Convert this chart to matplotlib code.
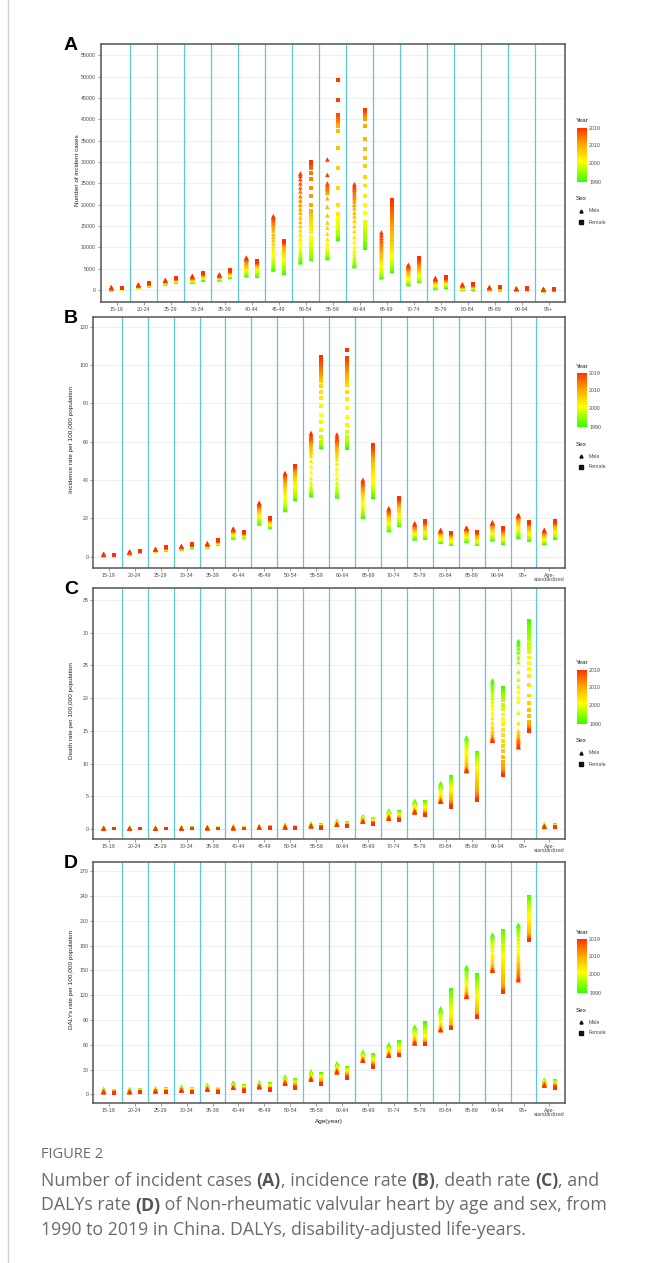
import matplotlib
matplotlib.use("Agg")
import matplotlib.pyplot as plt
import numpy as np
from matplotlib.colors import LinearSegmentedColormap, Normalize
from matplotlib.cm import ScalarMappable
from matplotlib.lines import Line2D

W, H = 662, 1263
YEARS = list(range(1990, 2020))
AGES = ["15-19", "20-24", "25-29", "30-34", "35-39", "40-44", "45-49", "50-54", "55-59",
        "60-64", "65-69", "70-74", "75-79", "80-84", "85-89", "90-94", "95+"]
AGES_STD = AGES + ["Age-\nstandardized"]

# (A) number of incident cases, in thousands, one row per age group, 1990..2019
cases_male = [
    [0.2,0.2,0.3,0.3,0.3,0.3,0.3,0.3,0.3,0.3, 0.4,0.4,0.4,0.4,0.4,0.4,0.4,0.4,0.4,0.5, 0.5,0.5,0.5,0.5,0.5,0.5,0.5,0.6,0.6,0.6],
    [0.8,0.8,0.8,0.9,0.9,0.9,0.9,0.9,1.0,1.0, 1.0,1.0,1.0,1.0,1.0,1.1,1.1,1.1,1.1,1.1, 1.1,1.1,1.1,1.2,1.2,1.2,1.2,1.2,1.2,1.2],
    [1.6,1.6,1.7,1.7,1.7,1.8,1.8,1.8,1.9,1.9, 1.9,1.9,2.0,2.0,2.0,2.0,2.1,2.1,2.1,2.1, 2.1,2.2,2.2,2.2,2.2,2.2,2.3,2.3,2.3,2.3],
    [2.0,2.0,2.1,2.1,2.2,2.2,2.3,2.3,2.4,2.4, 2.5,2.5,2.6,2.6,2.7,2.7,2.8,2.8,2.8,2.9, 2.9,2.9,3.0,3.0,3.0,3.1,3.1,3.2,3.2,3.3],
    [2.5,2.6,2.6,2.7,2.7,2.8,2.8,2.9,2.9,3.0, 3.0,3.1,3.1,3.1,3.2,3.2,3.2,3.2,3.3,3.3, 3.3,3.3,3.4,3.4,3.4,3.5,3.5,3.5,3.6,3.6],
    [3.5,3.6,3.7,3.8,3.9,4.0,4.2,4.4,4.6,4.8, 5.0,5.1,5.2,5.3,5.4,5.5,5.6,5.8,6.0,6.2, 6.4,6.6,6.8,7.0,7.1,7.2,7.3,7.4,7.5,7.6],
    [4.8,5.0,5.2,5.5,5.8,6.0,6.3,6.7,7.0,7.5, 8.0,8.5,9.0,9.6,10.3,11.0,11.8,12.5,13.2,14.0, 14.6,15.1,15.5,15.8,16.1,16.4,16.6,16.9,17.1,17.3],
    [6.5,6.7,6.9,7.2,7.5,7.8,8.1,8.5,8.9,9.3, 9.8,10.4,11.1,12.0,13.0,14.0,15.0,16.0,17.0,18.1, 19.0,20.0,21.0,22.0,23.1,24.0,25.0,26.0,26.8,27.3],
    [7.5,7.6,7.8,8.0,8.2,8.4,8.6,8.8,9.1,9.4, 9.8,10.2,11.0,12.0,13.2,14.6,15.8,17.5,19.5,21.5, 22.8,23.2,23.5,23.7,23.9,24.2,24.7,25.0,27.0,30.6],
    [5.6,5.7,5.8,6.0,6.2,6.5,6.8,7.2,7.8,8.5, 9.3,10.2,11.3,12.5,13.8,15.0,16.2,17.3,18.2,19.2, 20.0,20.8,21.5,22.0,22.5,23.0,23.5,23.9,24.3,24.8],
    [3.0,3.1,3.2,3.4,3.6,3.8,4.0,4.3,4.6,5.0, 5.4,5.8,6.2,6.6,7.0,7.4,7.8,8.2,8.6,9.0, 9.4,9.8,10.2,10.6,11.0,11.4,11.8,12.3,12.9,13.5],
    [1.4,1.5,1.6,1.7,1.8,1.9,2.0,2.2,2.4,2.6, 2.8,3.0,3.2,3.4,3.6,3.8,4.0,4.2,4.4,4.6, 4.7,4.8,5.0,5.1,5.2,5.3,5.5,5.6,5.8,5.9],
    [0.5,0.6,0.6,0.7,0.8,0.9,1.0,1.1,1.2,1.3, 1.4,1.5,1.6,1.7,1.8,1.9,2.0,2.0,2.1,2.2, 2.2,2.3,2.4,2.4,2.5,2.5,2.6,2.7,2.7,2.8],
    [0.3,0.3,0.3,0.4,0.4,0.4,0.5,0.5,0.5,0.6, 0.6,0.7,0.7,0.7,0.8,0.8,0.9,0.9,0.9,1.0, 1.0,1.0,1.1,1.1,1.1,1.2,1.2,1.2,1.3,1.3],
    [0.1,0.1,0.1,0.1,0.2,0.2,0.2,0.2,0.2,0.3, 0.3,0.3,0.3,0.3,0.4,0.4,0.4,0.4,0.4,0.5, 0.5,0.5,0.5,0.5,0.5,0.6,0.6,0.6,0.6,0.6],
    [0.1,0.1,0.1,0.1,0.1,0.1,0.1,0.1,0.1,0.1, 0.1,0.2,0.2,0.2,0.2,0.2,0.2,0.2,0.2,0.2, 0.2,0.2,0.3,0.3,0.3,0.3,0.3,0.3,0.3,0.3],
    [0.0,0.0,0.0,0.0,0.0,0.0,0.0,0.0,0.0,0.1, 0.1,0.1,0.1,0.1,0.1,0.1,0.1,0.1,0.1,0.1, 0.1,0.1,0.1,0.1,0.2,0.2,0.2,0.2,0.2,0.2],
]
cases_female = [
    [0.2,0.2,0.2,0.3,0.3,0.3,0.3,0.3,0.3,0.3, 0.3,0.3,0.4,0.4,0.4,0.4,0.4,0.4,0.4,0.4, 0.4,0.4,0.5,0.5,0.5,0.5,0.5,0.5,0.5,0.5],
    [0.9,0.9,1.0,1.0,1.0,1.0,1.1,1.1,1.1,1.1, 1.2,1.2,1.2,1.2,1.3,1.3,1.3,1.3,1.4,1.4, 1.4,1.4,1.4,1.5,1.5,1.5,1.5,1.6,1.6,1.6],
    [1.9,1.9,2.0,2.0,2.0,2.1,2.1,2.1,2.2,2.2, 2.2,2.3,2.3,2.3,2.4,2.4,2.4,2.5,2.5,2.5, 2.6,2.6,2.6,2.6,2.7,2.7,2.7,2.8,2.8,2.8],
    [2.4,2.5,2.5,2.6,2.7,2.7,2.8,2.9,2.9,3.0, 3.0,3.1,3.2,3.2,3.3,3.3,3.4,3.4,3.5,3.5, 3.6,3.6,3.7,3.7,3.8,3.8,3.9,3.9,4.0,4.0],
    [3.0,3.1,3.1,3.2,3.3,3.3,3.4,3.5,3.5,3.6, 3.6,3.7,3.8,3.8,3.9,3.9,4.0,4.0,4.1,4.1, 4.2,4.2,4.3,4.3,4.4,4.4,4.5,4.5,4.6,4.6],
    [3.3,3.4,3.5,3.6,3.7,3.9,4.1,4.3,4.5,4.8, 5.0,5.1,5.2,5.4,5.5,5.6,5.7,5.8,5.9,6.0, 6.1,6.2,6.3,6.3,6.4,6.4,6.5,6.5,6.6,6.7],
    [3.9,4.1,4.3,4.5,4.8,5.1,5.4,5.8,6.2,6.6, 7.0,7.4,7.8,8.2,8.6,9.0,9.3,9.6,9.9,10.1, 10.3,10.5,10.7,10.8,10.9,11.0,11.1,11.2,11.3,11.5],
    [7.2,7.3,7.4,7.5,7.7,8.0,8.4,9.0,9.8,10.5, 11.5,12.5,13.5,14.5,15.5,16.5,17.2,17.8,18.2,18.6, 20.0,22.0,24.0,26.0,27.5,28.5,29.0,29.5,29.8,30.0],
    [12.0,12.2,12.4,12.6,12.8,13.0,13.3,13.7,14.2,14.8, 15.5,16.5,17.5,17.9,20.0,24.0,28.7,33.2,37.2,38.5, 39.0,39.3,39.5,39.8,40.0,40.5,40.9,41.0,44.5,49.3],
    [9.8,10.0,10.3,10.7,11.2,11.8,12.5,13.2,14.0,15.0, 16.0,18.0,20.0,22.0,24.5,26.5,29.0,31.0,33.0,35.5, 38.5,40.0,40.8,41.2,41.5,41.7,41.9,42.0,42.1,42.3],
    [4.4,4.6,4.8,5.0,5.2,5.5,5.8,6.2,6.6,7.0, 7.5,8.0,8.6,9.2,9.8,10.5,11.2,12.0,12.8,13.6, 14.4,15.2,16.0,16.8,17.5,18.2,18.9,19.5,20.2,21.0],
    [2.0,2.1,2.2,2.3,2.4,2.5,2.7,2.9,3.1,3.3, 3.5,3.7,3.9,4.1,4.3,4.5,4.7,4.9,5.1,5.3, 5.5,5.7,5.9,6.1,6.3,6.5,6.7,6.9,7.2,7.5],
    [0.8,0.9,0.9,1.0,1.0,1.1,1.2,1.3,1.4,1.5, 1.6,1.7,1.8,1.9,2.0,2.0,2.1,2.2,2.2,2.3, 2.4,2.4,2.5,2.6,2.6,2.7,2.8,2.8,2.9,3.0],
    [0.3,0.3,0.4,0.4,0.4,0.5,0.5,0.5,0.6,0.6, 0.7,0.7,0.7,0.8,0.8,0.9,0.9,0.9,1.0,1.0, 1.0,1.1,1.1,1.1,1.2,1.2,1.2,1.3,1.3,1.4],
    [0.1,0.1,0.1,0.2,0.2,0.2,0.2,0.2,0.3,0.3, 0.3,0.3,0.3,0.4,0.4,0.4,0.4,0.5,0.5,0.5, 0.5,0.5,0.6,0.6,0.6,0.6,0.6,0.7,0.7,0.7],
    [0.1,0.1,0.1,0.1,0.1,0.1,0.1,0.1,0.1,0.1, 0.2,0.2,0.2,0.2,0.2,0.2,0.2,0.2,0.2,0.2, 0.3,0.3,0.3,0.3,0.3,0.3,0.3,0.3,0.3,0.4],
    [0.0,0.0,0.0,0.0,0.0,0.0,0.0,0.0,0.1,0.1, 0.1,0.1,0.1,0.1,0.1,0.1,0.1,0.1,0.1,0.1, 0.1,0.1,0.1,0.1,0.1,0.2,0.2,0.2,0.2,0.2],
]

# (B) incidence rate per 100,000
inc_male = [
    [0.8,0.8,0.8,0.9,0.9,0.9,0.9,0.9,0.9,1.0, 1.0,1.0,1.0,1.0,1.0,1.0,1.1,1.1,1.1,1.1, 1.1,1.1,1.1,1.1,1.2,1.2,1.2,1.2,1.2,1.2],
    [1.7,1.7,1.8,1.8,1.8,1.9,1.9,1.9,2.0,2.0, 2.0,2.0,2.1,2.1,2.1,2.1,2.2,2.2,2.2,2.2, 2.3,2.3,2.3,2.3,2.4,2.4,2.4,2.4,2.5,2.5],
    [3.0,3.0,3.1,3.1,3.1,3.2,3.2,3.2,3.3,3.3, 3.3,3.4,3.4,3.4,3.5,3.5,3.5,3.5,3.6,3.6, 3.6,3.6,3.7,3.7,3.7,3.7,3.8,3.8,3.8,3.8],
    [4.2,4.2,4.3,4.3,4.4,4.4,4.5,4.5,4.6,4.6, 4.7,4.7,4.8,4.8,4.8,4.9,4.9,4.9,5.0,5.0, 5.0,5.1,5.1,5.1,5.2,5.2,5.2,5.3,5.3,5.3],
    [5.0,5.1,5.1,5.2,5.2,5.3,5.3,5.4,5.5,5.5, 5.6,5.7,5.7,5.8,5.9,5.9,6.0,6.1,6.1,6.2, 6.3,6.3,6.4,6.5,6.5,6.6,6.6,6.7,6.7,6.8],
    [10.0,10.1,10.2,10.4,10.6,10.8,11.0,11.2,11.4,11.6, 11.8,12.0,12.2,12.4,12.6,12.8,13.0,13.1,13.2,13.4, 13.5,13.6,13.7,13.8,13.9,14.0,14.1,14.2,14.4,14.5],
    [17.3,17.5,17.8,18.1,18.5,18.9,19.3,19.8,20.3,20.8, 21.3,21.8,22.3,22.8,23.2,23.6,24.0,24.4,24.8,25.1, 25.4,25.7,26.0,26.3,26.6,26.9,27.2,27.5,27.8,28.0],
    [24.3,24.6,25.0,25.4,25.8,26.3,26.8,27.5,28.3,29.2, 30.2,31.3,32.4,33.5,34.6,35.6,36.5,37.3,38.0,38.6, 39.2,39.8,40.4,41.0,41.5,42.0,42.4,42.8,43.2,43.6],
    [32.0,32.5,33.0,33.4,33.8,34.2,34.6,35.0,36.5,38.5, 41.0,44.0,47.0,50.0,52.5,54.0,55.2,56.3,57.2,58.0, 58.7,59.3,59.9,60.5,61.0,61.5,62.0,62.5,63.5,64.5],
    [31.4,31.8,32.2,32.6,33.0,33.5,34.0,35.0,36.5,38.5, 41.0,43.5,46.0,48.5,50.8,52.5,54.0,55.0,56.0,56.8, 57.5,58.2,58.8,59.4,60.0,60.5,61.0,61.5,62.5,63.7],
    [20.8,21.2,21.6,22.0,22.5,23.0,23.6,24.3,25.1,26.0, 27.0,28.0,29.0,30.0,31.0,32.0,32.8,33.5,34.2,34.8, 35.3,35.8,36.3,36.8,37.3,37.8,38.3,38.8,39.4,40.0],
    [13.8,14.0,14.3,14.6,15.0,15.4,15.8,16.3,16.8,17.3, 17.8,18.3,18.8,19.3,19.8,20.2,20.6,21.0,21.4,21.8, 22.1,22.4,22.7,23.0,23.3,23.6,24.0,24.4,24.8,25.2],
    [9.5,9.7,9.9,10.2,10.5,10.8,11.1,11.4,11.7,12.0, 12.3,12.6,12.9,13.2,13.5,13.8,14.1,14.4,14.7,15.0, 15.2,15.4,15.7,15.9,16.1,16.4,16.6,16.8,17.0,17.3],
    [7.7,7.8,8.0,8.2,8.4,8.6,8.8,9.0,9.2,9.5, 9.8,10.1,10.4,10.7,11.0,11.3,11.6,11.9,12.1,12.3, 12.5,12.7,12.9,13.1,13.2,13.3,13.4,13.5,13.7,13.8],
    [8.2,8.4,8.6,8.8,9.0,9.3,9.6,9.9,10.2,10.5, 10.8,11.1,11.4,11.7,12.0,12.3,12.6,12.9,13.1,13.3, 13.5,13.7,13.9,14.1,14.3,14.5,14.6,14.7,14.9,15.0],
    [9.0,9.2,9.4,9.7,10.0,10.3,10.6,11.0,11.4,11.8, 12.2,12.6,13.0,13.4,13.8,14.2,14.6,15.0,15.3,15.6, 15.9,16.2,16.5,16.7,16.9,17.1,17.3,17.5,17.7,17.8],
    [10.4,10.7,11.0,11.4,11.8,12.2,12.7,13.2,13.7,14.2, 14.7,15.2,15.7,16.2,16.7,17.2,17.7,18.2,18.6,19.0, 19.4,19.8,20.1,20.4,20.7,20.9,21.1,21.3,21.5,21.7],
    [7.2,7.4,7.6,7.8,8.0,8.2,8.4,8.6,8.8,9.0, 9.3,9.6,9.9,10.2,10.5,10.8,11.1,11.4,11.7,12.0, 12.2,12.4,12.6,12.8,13.0,13.2,13.4,13.5,13.7,13.8],
]
inc_female = [
    [0.7,0.7,0.7,0.7,0.7,0.7,0.8,0.8,0.8,0.8, 0.8,0.8,0.8,0.8,0.9,0.9,0.9,0.9,0.9,0.9, 0.9,0.9,0.9,1.0,1.0,1.0,1.0,1.0,1.0,1.0],
    [2.2,2.2,2.2,2.3,2.3,2.3,2.3,2.4,2.4,2.4, 2.4,2.5,2.5,2.5,2.5,2.5,2.6,2.6,2.6,2.6, 2.6,2.7,2.7,2.7,2.7,2.7,2.8,2.8,2.8,2.8],
    [3.5,3.5,3.6,3.6,3.7,3.7,3.8,3.8,3.9,3.9, 4.0,4.0,4.1,4.1,4.2,4.2,4.3,4.3,4.4,4.4, 4.5,4.5,4.6,4.6,4.6,4.7,4.7,4.7,4.8,4.8],
    [5.2,5.2,5.3,5.3,5.4,5.4,5.4,5.5,5.5,5.6, 5.6,5.7,5.7,5.7,5.8,5.8,5.9,5.9,5.9,6.0, 6.0,6.0,6.1,6.1,6.1,6.2,6.2,6.2,6.3,6.3],
    [6.5,6.6,6.6,6.7,6.8,6.8,6.9,7.0,7.0,7.1, 7.2,7.3,7.3,7.4,7.5,7.6,7.6,7.7,7.8,7.8, 7.9,8.0,8.0,8.1,8.2,8.2,8.3,8.4,8.4,8.5],
    [10.0,10.1,10.2,10.3,10.4,10.5,10.6,10.7,10.8,10.9, 11.0,11.1,11.2,11.3,11.4,11.5,11.6,11.7,11.8,11.9, 12.0,12.1,12.2,12.3,12.4,12.5,12.6,12.7,12.7,12.8],
    [15.4,15.5,15.6,15.8,16.0,16.2,16.4,16.6,16.8,17.0, 17.2,17.4,17.6,17.8,18.0,18.2,18.4,18.6,18.8,19.0, 19.1,19.2,19.3,19.4,19.5,19.6,19.7,19.8,19.9,20.0],
    [30.0,30.3,30.6,31.0,31.4,31.9,32.5,33.2,34.0,35.0, 36.0,37.0,38.0,39.0,40.0,41.0,41.8,42.5,43.2,43.8, 44.3,44.8,45.2,45.6,46.0,46.3,46.6,46.9,47.2,47.5],
    [57.3,57.6,57.9,58.2,58.5,58.8,59.2,59.8,62.6,66.0, 70.0,74.0,78.6,82.5,86.0,89.0,91.5,92.5,93.3,94.0, 94.8,95.6,96.5,97.5,98.5,99.5,100.5,101.5,103.0,104.3],
    [56.7,57.2,57.7,58.3,59.0,59.8,60.6,61.5,62.3,65.0, 68.6,73.0,77.7,82.0,86.0,89.5,91.5,92.5,93.5,94.5, 95.5,96.5,97.5,98.5,99.5,100.3,101.5,102.5,103.5,107.8],
    [31.2,31.6,32.0,32.4,32.9,33.5,34.2,35.0,36.0,37.2, 38.5,40.0,41.5,43.0,44.5,46.0,47.3,48.5,49.6,50.6, 51.5,52.3,53.0,53.7,54.4,55.1,55.8,56.5,57.3,58.2],
    [16.4,16.6,16.9,17.2,17.6,18.0,18.5,19.0,19.6,20.2, 20.9,21.6,22.3,23.0,23.7,24.4,25.0,25.6,26.2,26.7, 27.2,27.6,28.0,28.4,28.8,29.1,29.4,29.7,30.1,30.4],
    [9.5,9.7,9.9,10.2,10.5,10.8,11.1,11.5,11.9,12.3, 12.7,13.1,13.5,13.9,14.3,14.7,15.1,15.5,15.9,16.2, 16.5,16.8,17.0,17.2,17.4,17.6,17.8,18.0,18.2,18.3],
    [6.4,6.5,6.7,6.9,7.1,7.3,7.5,7.7,7.9,8.2, 8.5,8.8,9.1,9.4,9.7,10.0,10.3,10.6,10.8,11.0, 11.2,11.4,11.6,11.8,11.9,12.0,12.1,12.2,12.4,12.5],
    [6.4,6.5,6.7,6.9,7.1,7.3,7.5,7.7,8.0,8.3, 8.6,8.9,9.2,9.5,9.8,10.1,10.4,10.7,11.0,11.3, 11.5,11.7,11.9,12.1,12.3,12.5,12.6,12.7,12.9,13.0],
    [7.2,7.4,7.6,7.8,8.0,8.2,8.5,8.8,9.1,9.4, 9.7,10.0,10.3,10.6,10.9,11.2,11.5,11.8,12.1,12.4, 12.7,13.0,13.3,13.5,13.7,13.9,14.1,14.3,14.5,14.7],
    [8.8,9.0,9.2,9.5,9.8,10.1,10.4,10.8,11.2,11.6, 12.0,12.4,12.8,13.2,13.6,14.0,14.4,14.8,15.2,15.6, 15.9,16.2,16.5,16.8,17.0,17.2,17.4,17.5,17.7,17.8],
    [9.8,10.0,10.2,10.5,10.8,11.1,11.4,11.7,12.0,12.4, 12.8,13.2,13.6,14.0,14.4,14.8,15.2,15.6,15.9,16.2, 16.5,16.8,17.0,17.2,17.4,17.6,17.8,18.0,18.2,18.3],
]

# (C) death rate per 100,000
death_male = [
    [0.2,0.2,0.2,0.2,0.2,0.2,0.2,0.2,0.1,0.1, 0.1,0.1,0.1,0.1,0.1,0.1,0.1,0.1,0.1,0.1, 0.1,0.1,0.1,0.1,0.1,0.1,0.1,0.1,0.1,0.1],
    [0.2,0.2,0.2,0.2,0.2,0.2,0.2,0.2,0.2,0.2, 0.1,0.1,0.1,0.1,0.1,0.1,0.1,0.1,0.1,0.1, 0.1,0.1,0.1,0.1,0.1,0.1,0.1,0.1,0.1,0.1],
    [0.2,0.2,0.2,0.2,0.2,0.2,0.2,0.2,0.2,0.2, 0.2,0.2,0.1,0.1,0.1,0.1,0.1,0.1,0.1,0.1, 0.1,0.1,0.1,0.1,0.1,0.1,0.1,0.1,0.1,0.1],
    [0.3,0.3,0.3,0.2,0.2,0.2,0.2,0.2,0.2,0.2, 0.2,0.2,0.2,0.2,0.2,0.2,0.2,0.2,0.2,0.2, 0.1,0.1,0.1,0.1,0.1,0.1,0.1,0.1,0.1,0.1],
    [0.3,0.3,0.3,0.3,0.3,0.3,0.3,0.3,0.2,0.2, 0.2,0.2,0.2,0.2,0.2,0.2,0.2,0.2,0.2,0.2, 0.2,0.2,0.2,0.2,0.2,0.2,0.2,0.2,0.2,0.2],
    [0.4,0.4,0.4,0.3,0.3,0.3,0.3,0.3,0.3,0.3, 0.3,0.3,0.3,0.3,0.3,0.2,0.2,0.2,0.2,0.2, 0.2,0.2,0.2,0.2,0.2,0.2,0.2,0.2,0.2,0.2],
    [0.4,0.4,0.4,0.4,0.4,0.4,0.4,0.4,0.3,0.3, 0.3,0.3,0.3,0.3,0.3,0.3,0.3,0.3,0.3,0.3, 0.3,0.3,0.3,0.3,0.3,0.3,0.3,0.3,0.3,0.3],
    [0.6,0.6,0.6,0.6,0.5,0.5,0.5,0.5,0.5,0.5, 0.5,0.5,0.4,0.4,0.4,0.4,0.4,0.4,0.4,0.4, 0.4,0.4,0.4,0.4,0.4,0.3,0.3,0.3,0.3,0.3],
    [0.8,0.8,0.8,0.8,0.8,0.7,0.7,0.7,0.7,0.7, 0.7,0.6,0.6,0.6,0.6,0.6,0.6,0.6,0.5,0.5, 0.5,0.5,0.5,0.5,0.5,0.5,0.5,0.5,0.5,0.5],
    [1.2,1.2,1.2,1.2,1.1,1.1,1.1,1.1,1.0,1.0, 1.0,1.0,0.9,0.9,0.9,0.9,0.9,0.8,0.8,0.8, 0.8,0.8,0.8,0.8,0.7,0.7,0.7,0.7,0.7,0.7],
    [1.9,1.9,1.9,1.8,1.8,1.8,1.7,1.7,1.7,1.6, 1.6,1.6,1.5,1.5,1.5,1.4,1.4,1.4,1.4,1.3, 1.3,1.3,1.3,1.3,1.2,1.2,1.2,1.2,1.2,1.2],
    [2.8,2.8,2.7,2.7,2.6,2.6,2.5,2.5,2.4,2.4, 2.3,2.3,2.2,2.2,2.1,2.1,2.0,2.0,1.9,1.9, 1.8,1.8,1.8,1.7,1.7,1.7,1.7,1.6,1.6,1.6],
    [4.3,4.3,4.2,4.2,4.1,4.0,3.9,3.8,3.7,3.6, 3.5,3.4,3.3,3.2,3.1,3.0,3.0,2.9,2.9,2.8, 2.8,2.8,2.7,2.7,2.7,2.7,2.6,2.6,2.6,2.6],
    [7.0,6.9,6.8,6.7,6.6,6.5,6.4,6.2,6.0,5.8, 5.6,5.4,5.3,5.1,5.0,4.9,4.8,4.7,4.6,4.5, 4.5,4.4,4.4,4.3,4.3,4.3,4.2,4.2,4.2,4.2],
    [14.0,13.9,13.8,13.7,13.6,13.4,13.2,12.9,12.6,12.3, 12.0,11.7,11.4,11.1,10.8,10.5,10.2,9.9,9.7,9.5, 9.4,9.3,9.2,9.1,9.1,9.0,9.0,8.9,8.9,8.9],
    [22.7,22.5,22.3,22.0,21.7,21.4,21.0,20.5,20.0,19.5, 19.0,18.5,17.8,17.0,16.3,15.6,15.0,14.6,14.3,14.1, 14.0,13.9,13.8,13.8,13.7,13.7,13.6,13.6,13.5,13.5],
    [28.7,28.4,28.1,27.6,27.0,26.2,25.5,24.0,22.8,21.8, 21.0,20.2,19.5,17.8,16.2,15.0,14.6,14.3,14.1,13.9, 13.8,13.7,13.6,13.5,13.4,13.2,13.0,12.8,12.6,12.5],
    [0.7,0.7,0.7,0.7,0.7,0.6,0.6,0.6,0.6,0.6, 0.6,0.6,0.5,0.5,0.5,0.5,0.5,0.5,0.5,0.5, 0.5,0.4,0.4,0.4,0.4,0.4,0.4,0.4,0.4,0.4],
]
death_female = [
    [0.1,0.1,0.1,0.1,0.1,0.1,0.1,0.1,0.1,0.1, 0.1,0.1,0.1,0.1,0.1,0.1,0.1,0.1,0.1,0.1, 0.1,0.1,0.1,0.1,0.1,0.1,0.1,0.1,0.1,0.1],
    [0.1,0.1,0.1,0.1,0.1,0.1,0.1,0.1,0.1,0.1, 0.1,0.1,0.1,0.1,0.1,0.1,0.1,0.1,0.1,0.1, 0.1,0.1,0.1,0.1,0.1,0.1,0.1,0.1,0.1,0.1],
    [0.1,0.1,0.1,0.1,0.1,0.1,0.1,0.1,0.1,0.1, 0.1,0.1,0.1,0.1,0.1,0.1,0.1,0.1,0.1,0.1, 0.1,0.1,0.1,0.1,0.1,0.1,0.1,0.1,0.1,0.1],
    [0.2,0.2,0.2,0.2,0.2,0.1,0.1,0.1,0.1,0.1, 0.1,0.1,0.1,0.1,0.1,0.1,0.1,0.1,0.1,0.1, 0.1,0.1,0.1,0.1,0.1,0.1,0.1,0.1,0.1,0.1],
    [0.2,0.2,0.2,0.2,0.2,0.2,0.2,0.2,0.2,0.2, 0.1,0.1,0.1,0.1,0.1,0.1,0.1,0.1,0.1,0.1, 0.1,0.1,0.1,0.1,0.1,0.1,0.1,0.1,0.1,0.1],
    [0.2,0.2,0.2,0.2,0.2,0.2,0.2,0.2,0.2,0.2, 0.2,0.2,0.2,0.2,0.2,0.1,0.1,0.1,0.1,0.1, 0.1,0.1,0.1,0.1,0.1,0.1,0.1,0.1,0.1,0.1],
    [0.3,0.3,0.3,0.3,0.3,0.2,0.2,0.2,0.2,0.2, 0.2,0.2,0.2,0.2,0.2,0.2,0.2,0.2,0.2,0.2, 0.2,0.2,0.2,0.2,0.2,0.2,0.2,0.2,0.2,0.2],
    [0.4,0.4,0.4,0.4,0.4,0.4,0.3,0.3,0.3,0.3, 0.3,0.3,0.3,0.3,0.3,0.2,0.2,0.2,0.2,0.2, 0.2,0.2,0.2,0.2,0.2,0.2,0.2,0.2,0.2,0.2],
    [0.6,0.6,0.6,0.6,0.5,0.5,0.5,0.5,0.5,0.5, 0.4,0.4,0.4,0.4,0.4,0.4,0.4,0.3,0.3,0.3, 0.3,0.3,0.3,0.3,0.3,0.3,0.3,0.2,0.2,0.2],
    [0.9,0.9,0.9,0.9,0.8,0.8,0.8,0.8,0.7,0.7, 0.7,0.7,0.7,0.6,0.6,0.6,0.6,0.6,0.6,0.5, 0.5,0.5,0.5,0.5,0.5,0.5,0.5,0.5,0.5,0.5],
    [1.6,1.6,1.5,1.5,1.5,1.4,1.4,1.3,1.3,1.3, 1.2,1.2,1.1,1.1,1.1,1.0,1.0,1.0,0.9,0.9, 0.9,0.9,0.9,0.8,0.8,0.8,0.8,0.8,0.8,0.8],
    [2.6,2.6,2.5,2.5,2.4,2.4,2.3,2.3,2.2,2.2, 2.1,2.0,2.0,1.9,1.9,1.8,1.8,1.7,1.7,1.6, 1.6,1.6,1.5,1.5,1.5,1.5,1.4,1.4,1.4,1.4],
    [4.2,4.2,4.1,4.0,3.9,3.8,3.7,3.6,3.5,3.4, 3.3,3.2,3.1,3.0,2.9,2.8,2.7,2.6,2.5,2.5, 2.4,2.4,2.3,2.3,2.2,2.2,2.2,2.1,2.1,2.1],
    [8.0,7.9,7.8,7.6,7.4,7.2,7.0,6.8,6.6,6.4, 6.2,6.0,5.8,5.6,5.4,5.2,5.0,4.8,4.6,4.4, 4.2,4.1,4.0,3.9,3.8,3.7,3.6,3.5,3.5,3.4],
    [11.7,11.6,11.5,11.4,11.2,11.0,10.8,10.5,10.2,9.9, 9.6,9.3,9.0,8.6,8.2,7.8,7.4,7.0,6.6,6.2, 5.9,5.6,5.3,5.1,4.9,4.8,4.7,4.6,4.5,4.5],
    [21.5,21.3,21.1,20.9,20.7,20.5,20.2,19.7,19.0,18.3, 17.5,16.8,16.0,15.2,14.3,13.5,12.7,11.9,11.0,10.2, 9.6,9.2,8.9,8.7,8.6,8.5,8.4,8.3,8.3,8.2],
    [31.8,31.5,31.2,30.8,30.2,29.6,29.0,28.3,27.6,27.0, 26.2,25.4,24.5,23.4,22.0,20.4,19.2,18.2,17.2,16.4, 16.0,15.7,15.5,15.4,15.3,15.2,15.1,15.1,15.0,15.0],
    [0.6,0.6,0.6,0.6,0.5,0.5,0.5,0.5,0.5,0.5, 0.4,0.4,0.4,0.4,0.4,0.4,0.4,0.4,0.3,0.3, 0.3,0.3,0.3,0.3,0.3,0.3,0.3,0.3,0.3,0.3],
]

# (D) DALYs rate per 100,000
daly_male = [
    [6,6,6,6,5,5,5,5,5,5, 5,4,4,4,4,4,4,4,4,4, 4,3,3,3,3,3,3,3,3,3],
    [6,6,6,6,6,5,5,5,5,5, 5,5,4,4,4,4,4,4,4,4, 4,4,3,3,3,3,3,3,3,3],
    [7,7,7,7,7,6,6,6,6,6, 6,6,5,5,5,5,5,5,5,5, 5,5,4,4,4,4,4,4,4,4],
    [9,9,9,8,8,8,8,8,7,7, 7,7,7,6,6,6,6,6,6,6, 6,6,5,5,5,5,5,5,5,5],
    [11,11,11,10,10,10,10,9,9,9, 9,8,8,8,8,8,7,7,7,7, 7,7,7,6,6,6,6,6,6,6],
    [14,14,14,13,13,13,12,12,12,11, 11,11,10,10,10,10,9,9,9,9, 9,9,8,8,8,8,8,8,8,8],
    [14,14,14,14,13,13,13,13,12,12, 12,12,11,11,11,11,11,10,10,10, 10,10,10,10,9,9,9,9,9,9],
    [21,21,21,20,20,20,19,19,19,18, 18,18,17,17,17,16,16,16,15,15, 15,15,14,14,14,14,14,13,13,13],
    [27,27,27,26,26,26,25,25,24,24, 23,23,22,22,21,21,21,20,20,20, 19,19,19,19,18,18,18,18,18,18],
    [37,37,37,36,36,35,35,34,34,33, 33,32,32,31,31,30,30,30,29,29, 29,28,28,28,28,27,27,27,27,27],
    [51,51,50,50,49,49,48,48,47,47, 46,46,45,45,44,44,44,43,43,43, 42,42,42,42,41,41,41,41,41,41],
    [60,60,59,59,58,57,57,56,55,55, 54,53,53,52,52,51,51,50,50,49, 49,49,48,48,48,47,47,47,47,47],
    [82,81,81,80,79,78,77,76,75,74, 73,72,71,70,69,68,67,66,66,65, 65,64,64,63,63,63,62,62,62,62],
    [104,103,102,101,100,99,98,96,94,92, 90,88,86,85,84,83,82,81,80,80, 79,79,79,78,78,78,78,78,78,78],
    [154,153,152,150,148,146,144,142,140,138, 136,134,132,130,128,126,125,124,123,122, 121,121,120,120,119,119,119,118,118,118],
    [193,192,191,190,189,188,186,184,181,178, 175,172,169,166,163,160,158,156,155,154, 153,152,152,151,151,150,150,150,150,150],
    [205,204,203,202,200,198,195,192,188,184, 180,176,172,168,165,162,160,158,156,154, 152,150,148,146,144,142,141,140,139,138],
    [17,17,17,16,16,16,16,15,15,15, 15,14,14,14,14,13,13,13,13,13, 12,12,12,12,12,12,11,11,11,11],
]
daly_female = [
    [4,4,4,4,4,4,4,3,3,3, 3,3,3,3,3,3,3,3,3,3, 3,2,2,2,2,2,2,2,2,2],
    [5,5,5,5,5,5,4,4,4,4, 4,4,4,4,4,3,3,3,3,3, 3,3,3,3,3,3,3,3,3,3],
    [6,6,6,6,6,5,5,5,5,5, 5,5,4,4,4,4,4,4,4,4, 3,3,3,3,3,3,3,3,3,3],
    [6,6,6,6,6,6,5,5,5,5, 5,5,5,4,4,4,4,4,4,4, 3,3,3,3,3,3,3,3,3,3],
    [7,7,7,7,7,6,6,6,6,6, 6,5,5,5,5,5,5,4,4,4, 4,4,4,4,3,3,3,3,3,3],
    [10,10,10,10,9,9,9,9,8,8, 8,8,7,7,7,7,6,6,6,6, 6,5,5,5,5,5,5,4,4,4],
    [12,12,12,11,11,11,11,10,10,10, 9,9,9,9,8,8,8,8,7,7, 7,7,6,6,6,6,6,5,5,5],
    [17,17,17,16,16,16,15,15,14,14, 14,13,13,12,12,12,11,11,11,10, 10,10,9,9,9,9,9,8,8,8],
    [25,25,24,24,23,23,22,22,21,21, 20,20,19,18,18,17,17,16,16,15, 15,14,14,14,13,13,13,12,12,12],
    [32,32,32,31,31,30,30,29,29,28, 28,27,27,26,26,25,25,24,24,23, 23,22,22,22,21,21,21,20,20,20],
    [47,47,46,46,45,45,44,43,43,42, 41,41,40,39,39,38,38,37,37,36, 36,35,35,35,34,34,34,33,33,33],
    [63,63,62,62,61,60,59,58,57,56, 55,54,53,52,51,51,50,50,49,49, 48,48,48,48,47,47,47,47,47,47],
    [86,85,84,83,82,80,79,77,75,73, 71,70,68,67,66,65,64,64,63,63, 62,62,62,61,61,61,61,61,61,61],
    [126,125,124,122,120,117,114,111,108,105, 102,99,96,93,91,89,87,85,84,83, 82,82,81,81,81,80,80,80,80,80],
    [144,143,142,140,138,136,134,131,128,125, 122,119,116,113,110,107,104,102,100,98, 97,96,96,95,95,95,94,94,94,94],
    [198,197,196,194,192,189,186,183,179,175, 171,167,163,159,155,151,147,143,139,135, 132,130,128,127,126,125,125,124,124,124],
    [239,238,237,235,233,231,229,227,224,221, 218,215,212,209,206,203,200,198,196,194, 192,191,190,189,189,188,188,187,187,187],
    [16,16,16,15,15,15,14,14,14,13, 13,13,12,12,12,11,11,11,11,10, 10,10,10,9,9,9,9,8,8,8],
]

for block in (cases_male, cases_female, inc_male, inc_female, death_male, death_female, daly_male, daly_female):
    for row in block:
        assert len(row) == len(YEARS), row

CMAP = LinearSegmentedColormap.from_list(
    "year", [(0.0, "#33FF00"), (0.38, "#FFFF00"), (0.7, "#FFA500"), (1.0, "#FF3300")])
NORM = Normalize(1990, 2019)
SEP = "#5DCAD3"
FONT = "Liberation Sans"

plt.rcParams["font.family"] = [FONT, "DejaVu Sans"]

fig = plt.figure(figsize=(W / 100, H / 100), dpi=100)


def rect(l, t, r, b):
    return [l / W, 1 - b / H, (r - l) / W, (b - t) / H]


def fx(x):
    return x / W


def fy(y):
    return 1 - y / H


def panel(box, labels, male, female, ylim, yticks, ylab, ylab_x, scale=1.0):
    ax = fig.add_axes(rect(*box))
    n = len(labels)
    for i in range(n):
        ax.scatter([i + 0.8] * len(YEARS), np.array(male[i]) * scale, c=YEARS, cmap=CMAP, norm=NORM,
                   marker="^", s=11, linewidths=0, zorder=3)
        ax.scatter([i + 1.2] * len(YEARS), np.array(female[i]) * scale, c=YEARS, cmap=CMAP, norm=NORM,
                   marker="s", s=8, linewidths=0, zorder=3)
    for i in range(1, n):
        ax.axvline(i + 0.5, color=SEP, lw=0.9, zorder=2)
    ax.set_xlim(0.4, n + 0.6)
    ax.set_ylim(*ylim)
    ax.set_yticks(yticks)
    ax.set_yticklabels([str(v) for v in yticks])
    ax.set_xticks(range(1, n + 1))
    ax.set_xticklabels(labels, linespacing=0.9)
    ax.yaxis.grid(True, color="#EBEBEB", lw=0.6, zorder=1)
    ax.set_axisbelow(True)
    ax.tick_params(labelsize=3.8, length=2, width=0.4, pad=1.5, colors="#555555", labelcolor="#4d4d4d")
    for sp in ax.spines.values():
        sp.set_color("#555555")
        sp.set_linewidth(1.1)
    fig.text(fx(ylab_x), fy((box[1] + box[3]) / 2 - 3), ylab, rotation=90, fontsize=4.6,
             ha="center", va="center", color="#222222")
    return ax


def legend(top):
    fig.text(fx(576), fy(top), "Year", fontsize=4.6, va="center", color="#222222")
    cax = fig.add_axes(rect(577, top + 7, 587, top + 61))
    cb = fig.colorbar(ScalarMappable(norm=NORM, cmap=CMAP), cax=cax, ticks=[1990, 2000, 2010, 2019])
    cb.outline.set_visible(False)
    cax.tick_params(labelsize=3.8, length=0, pad=1.5, labelcolor="#4d4d4d")
    fig.text(fx(576), fy(top + 78), "Sex", fontsize=4.6, va="center", color="#222222")
    for k, (mk, name) in enumerate([("^", "Male"), ("s", "Female")]):
        yy = top + 90 + 11 * k
        fig.add_artist(Line2D([fx(580.5)], [fy(yy)], marker=mk, color="#111111", ms=2.2, lw=0,
                              transform=fig.transFigure))
        fig.text(fx(589), fy(yy), name, fontsize=3.8, va="center", color="#4d4d4d")


def letter(x, y, s):
    fig.text(fx(x), fy(y), s, fontsize=14, fontweight="bold", ha="left", va="top", color="black")


# A
panel((100.5, 44, 565, 302), AGES, cases_male, cases_female, (-2810, 57660),
      list(range(0, 55001, 5000)), "Number of incident cases", 77.5, scale=1000)
legend(121)
letter(64, 37, "A")

# B
panel((93.3, 317, 565, 568), AGES_STD, inc_male, inc_female, (-6, 125),
      list(range(0, 121, 20)), "Incidence rate per 100,000 population", 71)
legend(366)
letter(64, 310, "B")

# C
panel((93.3, 588, 565, 839), AGES_STD, death_male, death_female, (-1.5, 36.8),
      list(range(0, 36, 5)), "Death rate per 100,000 population", 72)
legend(663)
letter(64, 581, "C")

# D
panel((93.3, 862, 565, 1103), AGES_STD, daly_male, daly_female, (-10.5, 281),
      list(range(0, 271, 30)), "DALYs rate per 100,000 population", 72)
legend(932)
letter(64, 855, "D")

fig.text(fx(329), fy(1121), "Age(year)", fontsize=4.6, ha="center", va="center", color="#222222")

# page frame line on the left
fig.add_artist(Line2D([fx(8), fx(8)], [0, 1], color="#d0d0d0", lw=1.0, transform=fig.transFigure))

# caption
CAP = "#6b6b6b"
fig.text(fx(41), fy(1155), "FIGURE 2", fontsize=10.5, color=CAP, va="center", family="Open Sans",
         fontweight="medium")

caption_lines = [
    [("Number of incident cases ", False), ("(A)", True), (", incidence rate ", False), ("(B)", True),
     (", death rate ", False), ("(C)", True), (", and", False)],
    [("DALYs rate ", False), ("(D)", True), (" of Non-rheumatic valvular heart by age and sex, from", False)],
    [("1990 to 2019 in China. DALYs, disability-adjusted life-years.", False)],
]
renderer = fig.canvas.get_renderer()
for li, segs in enumerate(caption_lines):
    x = fx(41)
    y = fy(1181 + 24.5 * li)
    for txt, bold in segs:
        t = fig.text(x, y, txt, fontsize=12.8, family="Open Sans", va="center",
                     color="#555555" if bold else CAP, fontweight="bold" if bold else "normal")
        bb = t.get_window_extent(renderer=renderer)
        x += bb.width / W

fig.savefig("out.png", dpi=100)
